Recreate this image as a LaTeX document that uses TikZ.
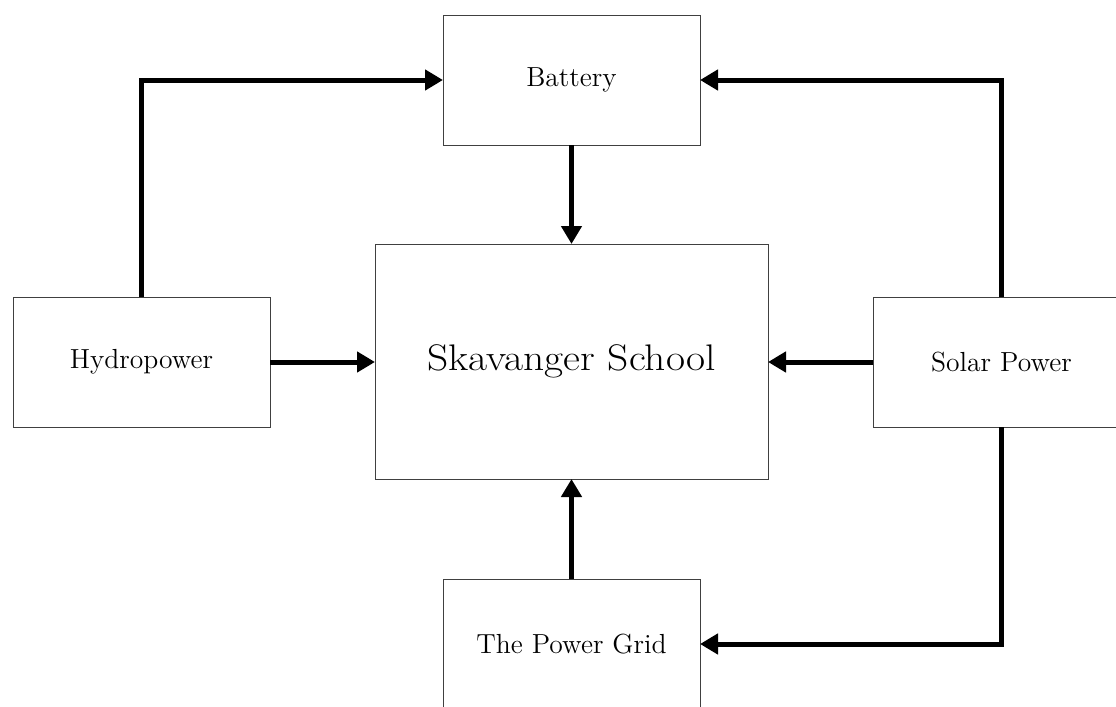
\documentclass[tikz,border=0pt]{standalone}
\usetikzlibrary{arrows.meta}
\begin{document}
\begin{tikzpicture}[x=0.5pt,y=-0.5pt,
  box/.style={draw=black!75,line width=0.5pt,rectangle,inner sep=0pt,outer sep=0pt,
    minimum width=128.5pt,minimum height=65pt,font=\fontsize{13.8}{16}\selectfont},
  bigbox/.style={box,minimum width=196.5pt,minimum height=117.5pt,font=\fontsize{18.5}{21}\selectfont},
  flow/.style={line width=2.5pt,-{Triangle[length=9pt,width=10pt]}}]
\useasboundingbox (0,0) rectangle (1116,707);
\node[bigbox] (sch) at (571.5,361.5) {\scalebox{1.12}[1]{Skavanger School}};
\node[box] (bat) at (571.5,80) {Battery};
\node[box] (hyd) at (141.5,362) {Hydropower};
\node[box] (sol) at (1001.5,362) {Solar Power};
\node[box] (grid) at (571.5,644) {The Power Grid};
\draw[flow] (bat.south) -- (sch.north);
\draw[flow] (grid.north) -- (sch.south);
\draw[flow] (hyd.east) -- (hyd.east -| sch.west);
\draw[flow] (sol.west) -- (sol.west -| sch.east);
\draw[flow] (hyd.north) |- (bat.west);
\draw[flow] (sol.north) |- (bat.east);
\draw[flow] (sol.south) |- (grid.east);
\end{tikzpicture}
\end{document}
